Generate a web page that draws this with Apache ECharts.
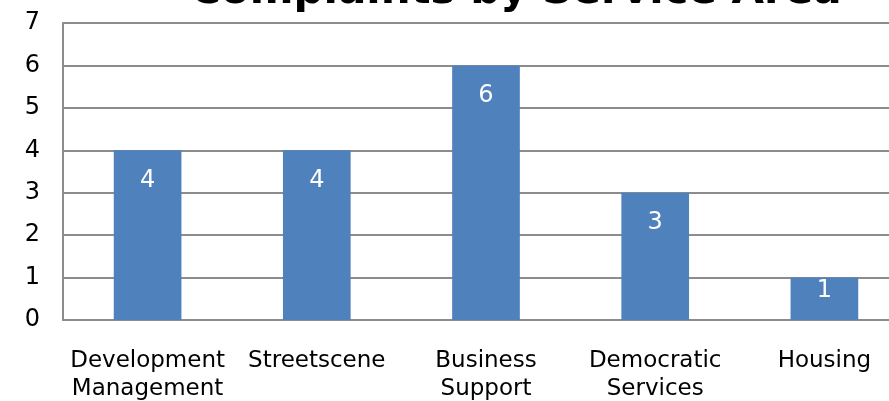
<!DOCTYPE html>
<html>
<head>
<meta charset="utf-8">
<script src="https://cdn.jsdelivr.net/npm/echarts@6/dist/echarts.min.js"></script>
<style>
  html, body { margin: 0; padding: 0; background: #fff; }
  #main { width: 889px; height: 401px; }
</style>
</head>
<body>
<div id="main"></div>
<script>
  // data
  var titleText = 'Complaints by Service Area';
  var categories = ['Development\nManagement', 'Streetscene', 'Business\nSupport', 'Democratic\nServices', 'Housing'];
  var complaints = [4, 4, 6, 3, 1];
  var yTicks = [0, 1, 2, 3, 4, 5, 6, 7];

  var font = 'DejaVu Sans, Verdana, sans-serif';
  var myChart = echarts.init(document.getElementById('main'));
  myChart.setOption({
    animation: false,
    title: {
      text: titleText,
      left: 185,
      top: -34,
      textStyle: { fontFamily: font, fontSize: 42, fontWeight: 'bold', color: '#000' }
    },
    grid: { left: 63, right: -20, top: 23, bottom: 81, containLabel: false, outerBoundsMode: 'none' },
    xAxis: {
      type: 'category',
      data: categories,
      axisLine: { lineStyle: { color: '#8c8c8c', width: 2 } },
      axisTick: { show: false },
      axisLabel: {
        fontFamily: font, fontSize: 23, color: '#000',
        margin: 27, lineHeight: 28, interval: 0
      }
    },
    yAxis: {
      type: 'value',
      min: yTicks[0],
      max: yTicks[yTicks.length - 1],
      interval: 1,
      axisLine: { show: true, lineStyle: { color: '#8c8c8c', width: 2 } },
      axisTick: { show: false },
      splitLine: { lineStyle: { color: '#8c8c8c', width: 2 } },
      axisLabel: { fontFamily: font, fontSize: 24, color: '#000', margin: 23 }
    },
    series: [{
      type: 'bar',
      barWidth: '40%',
      itemStyle: { color: '#4f81bd' },
      label: {
        show: true, position: 'insideTop', color: '#fff',
        fontFamily: font, fontSize: 24
      },
      data: complaints.map(function (v) {
        return { value: v, label: { distance: Math.max(1, Math.min(18, v * 42 - 42)) } };
      })
    }]
  });
</script>
</body>
</html>
